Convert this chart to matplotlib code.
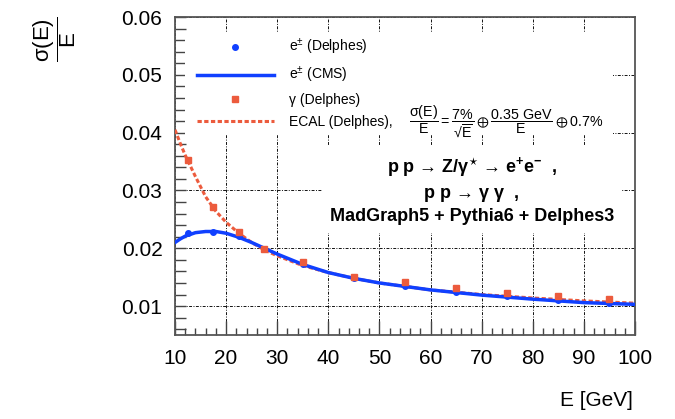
import matplotlib
matplotlib.use('Agg')
import matplotlib.pyplot as plt
from matplotlib.patches import Rectangle
from matplotlib.ticker import MultipleLocator

plt.rcParams['font.family'] = ['Liberation Sans', 'DejaVu Sans']
plt.rcParams['mathtext.fontset'] = 'custom'
plt.rcParams['mathtext.rm'] = 'Liberation Sans'
plt.rcParams['mathtext.it'] = 'Liberation Sans:italic'
plt.rcParams['mathtext.bf'] = 'Liberation Sans:bold'
plt.rcParams['mathtext.default'] = 'regular'

# bin centres of the Delphes points
e_bins = [12.5, 17.5, 22.5, 27.5, 35, 45, 55, 65, 75, 85, 95]
ele_delphes = [0.0227, 0.0228, 0.0222, 0.0198, 0.0172, 0.0149, 0.0134, 0.0125, 0.0117, 0.0110, 0.0105]
pho_delphes = [0.0352, 0.0272, 0.0228, 0.0199, 0.0176, 0.0150, 0.0141, 0.0132, 0.0122, 0.0117, 0.0112]

# curves
e_curve = [10, 11, 12, 14, 16, 18, 20, 22.5, 25, 27.5, 30, 35, 40, 45, 50, 60, 70, 80, 90, 100]
cms_curve = [0.0210, 0.0216, 0.0221, 0.0227, 0.0229, 0.0229, 0.0226, 0.0219, 0.0210, 0.0200,
             0.0190, 0.0172, 0.0158, 0.0148, 0.0140, 0.0128, 0.0119, 0.0112, 0.0106, 0.0103]
ecal_curve = [0.0405, 0.0382, 0.0361, 0.0324, 0.0289, 0.0264, 0.0245, 0.0226, 0.0210, 0.0197,
              0.0187, 0.0170, 0.0158, 0.0148, 0.0140, 0.0128, 0.0120, 0.0114, 0.0109, 0.0105]

blue = '#1040ff'
red = '#ec5b3d'

fig = plt.figure(figsize=(6.75, 4.19), dpi=100)
ax = fig.add_axes([175/675, 1-335/419, 460/675, 318/419])

ax.plot(e_curve, ecal_curve, color=red, lw=2.2, ls=(0, (1.4, 0.8)), zorder=6, label='ECAL (Delphes),')
ax.plot(e_curve, cms_curve, color=blue, lw=2.5, zorder=7, label=r'e$^{\pm}$ (CMS)')
ax.plot(e_bins, ele_delphes, 'o', color=blue, ms=4, zorder=8, label=r'e$^{\pm}$ (Delphes)')
ax.plot(e_bins, pho_delphes, 's', color=red, ms=5, zorder=8, label='γ (Delphes)')

ax.set_xlim(10, 100)
ax.set_ylim(0.005, 0.06)
ax.xaxis.set_major_locator(MultipleLocator(10))
ax.xaxis.set_minor_locator(MultipleLocator(2))
ax.yaxis.set_major_locator(MultipleLocator(0.01))
ax.yaxis.set_minor_locator(MultipleLocator(0.002))
ax.tick_params(which='both', direction='in', top=False, right=False, labelsize=15, color='#444444')
ax.tick_params(axis='x', which='major', length=10, width=1, pad=10)
ax.tick_params(axis='x', which='minor', length=5, width=1)
ax.tick_params(axis='y', which='major', length=8, width=1, pad=9)
ax.tick_params(axis='y', which='minor', length=8, width=1)
ax.set_yticks([0.01, 0.02, 0.03, 0.04, 0.05, 0.06])
ax.set_yticklabels(['0.01', '0.02', '0.03', '0.04', '0.05', '0.06'])
for s in ax.spines.values():
    s.set_color('#555555')
    s.set_linewidth(1.3)
ax.grid(True, which='major', color='#111111', lw=0.7, ls=(0, (3, 1.5, 1, 1.5)), zorder=0)
ax.set_axisbelow(True)

# white legend area hiding the grid (ROOT TLegend style)
ax.add_patch(Rectangle((10/460, (335-135)/318), (613-185)/460, 102/318,
                       transform=ax.transAxes, facecolor='white', edgecolor='none', zorder=4))

h, l = ax.get_legend_handles_labels()
order = [2, 1, 3, 0]
leg = ax.legend([h[i] for i in order], [l[i] for i in order], loc='upper left',
                bbox_to_anchor=(18/460, 1 - 16/318), fontsize=10, frameon=False,
                handlelength=5.5, handletextpad=1.1, labelspacing=0.55, borderpad=0.3,
                borderaxespad=0, numpoints=1)
leg.set_zorder(5)

# resolution formula next to the ECAL entry
fig.text(409/675, 1-121/419,
         r'$\dfrac{\sigma(E)}{E} = \dfrac{7\%}{√\overline{E}} \oplus \dfrac{0.35\ GeV}{E} \oplus 0.7\%$',
         ha='left', va='center', fontsize=10.3, zorder=5)

fig.text(472/675, 1-190/419,
         'p p → Z/γ$^{\\star}$ → e$^{+}$e$^{-}$  ,\n'
         'p p → γ γ  ,\n'
         'MadGraph5 + Pythia6 + Delphes3',
         ha='center', va='center', fontsize=13, fontweight='bold', linespacing=1.45,
         bbox=dict(facecolor='white', edgecolor='none', pad=6), zorder=5)

fig.text(55/675, 1-39/419, r'$\dfrac{\sigma(E)}{E}$', rotation=90, ha='center', va='center', fontsize=16)
fig.text(633/675, 1-400/419, 'E [GeV]', ha='right', va='center', fontsize=15)

fig.savefig('out.png', dpi=100)
